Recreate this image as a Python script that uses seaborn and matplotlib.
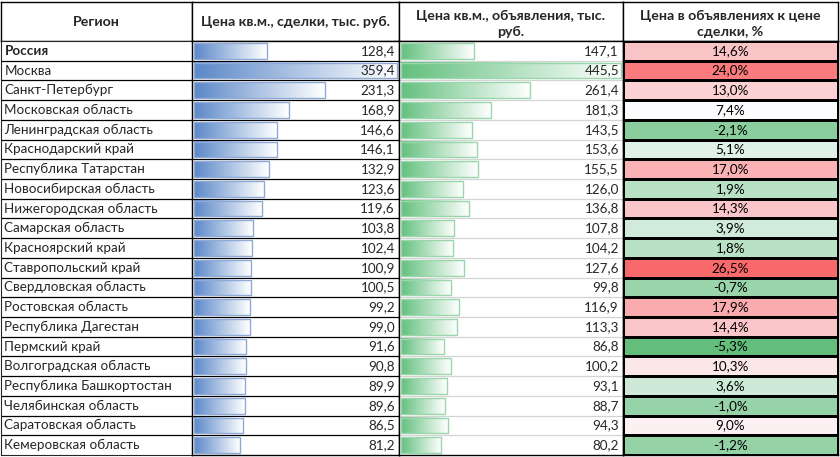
import numpy as np
import pandas as pd
import matplotlib
matplotlib.use("Agg")
import matplotlib.pyplot as plt
import matplotlib.transforms as mtransforms
from matplotlib.colors import LinearSegmentedColormap, TwoSlopeNorm
import seaborn as sns

regions = ["Россия", "Москва", "Санкт-Петербург", "Московская область",
           "Ленинградская область", "Краснодарский край", "Республика Татарстан",
           "Новосибирская область", "Нижегородская область", "Самарская область",
           "Красноярский край", "Ставропольский край", "Свердловская область",
           "Ростовская область", "Республика Дагестан", "Пермский край",
           "Волгоградская область", "Республика Башкортостан", "Челябинская область",
           "Саратовская область", "Кемеровская область"]
deal_price = [128.4, 359.4, 231.3, 168.9, 146.6, 146.1, 132.9, 123.6, 119.6, 103.8,
              102.4, 100.9, 100.5, 99.2, 99.0, 91.6, 90.8, 89.9, 89.6, 86.5, 81.2]
ask_price = [147.1, 445.5, 261.4, 181.3, 143.5, 153.6, 155.5, 126.0, 136.8, 107.8,
             104.2, 127.6, 99.8, 116.9, 113.3, 86.8, 100.2, 93.1, 88.7, 94.3, 80.2]
premium = [14.6, 24.0, 13.0, 7.4, -2.1, 5.1, 17.0, 1.9, 14.3, 3.9,
           1.8, 26.5, -0.7, 17.9, 14.4, -5.3, 10.3, 3.6, -1.0, 9.0, -1.2]
headers = ["Регион", "Цена кв.м., сделки, тыс. руб.",
           "Цена кв.м., объявления, тыс.\nруб.", "Цена в объявлениях к цене\nсделки, %"]

df = pd.DataFrame({"region": regions, "deal": deal_price, "ask": ask_price, "prem": premium})

sns.set_style("white")
plt.rcParams["font.family"] = ["Lato", "DejaVu Sans"]
FS = 9.7
HFS = 10.2

W, H = 840, 457
fig = plt.figure(figsize=(W / 100, H / 100), dpi=100)

col_x = [1, 192, 399, 623, 838]
top, head_bot, body_bot = 2, 41, 455


def rect(x0, x1, y0, y1):
    return [x0 / W, 1 - y1 / H, (x1 - x0) / W, (y1 - y0) / H]


def fmt(v):
    return f"{v:.1f}".replace(".", ",")


n = len(df)

# header cells
for i, h in enumerate(headers):
    hax = fig.add_axes(rect(col_x[i], col_x[i + 1], top, head_bot))
    hax.set_xticks([])
    hax.set_yticks([])
    for s in hax.spines.values():
        s.set_color("black")
        s.set_linewidth(1)
    y_txt = 0.44 if "\n" in h else 0.5
    hax.text(0.5, y_txt, h, ha="center", va="center", fontsize=HFS, fontweight="bold",
             transform=hax.transAxes, linespacing=1.45)

# region names
ax0 = fig.add_axes(rect(col_x[0], col_x[1], head_bot, body_bot))
ax0.set_xlim(0, 1)
ax0.set_ylim(n - 0.5, -0.5)
ax0.set_xticks([])
ax0.set_yticks([])
for i, r in enumerate(df["region"]):
    ax0.text(0.018, i, r, ha="left", va="center", fontsize=FS,
             fontweight="bold" if i == 0 else "normal")
for i in range(1, n):
    ax0.axhline(i - 0.5, color="black", lw=0.9)


def data_bars(ax, col, color, edge, grid_color, width_px):
    vals = df[col]
    sns.barplot(x=vals, y=df["region"], orient="h", ax=ax, color=color, width=0.8)
    cmap = LinearSegmentedColormap.from_list(col, [color, "#FFFFFF"])
    grad = np.linspace(0, 1, 256).reshape(1, -1)
    for p in ax.patches:
        x0, y0 = p.get_x(), p.get_y()
        w, h = p.get_width(), p.get_height()
        ax.imshow(grad, extent=[x0, x0 + w, y0 + h, y0], aspect="auto", cmap=cmap,
                  zorder=1, interpolation="bilinear")
        p.set_facecolor("none")
        p.set_edgecolor(edge)
        p.set_linewidth(1.0)
        p.set_zorder(2)
    vmax = vals.max()
    pad = vmax * 2.5 / width_px
    ax.set_xlim(-pad, vmax + pad)
    ax.set_ylim(n - 0.5, -0.5)
    ax.set_xticks([])
    ax.set_yticks([])
    ax.set_xlabel("")
    ax.set_ylabel("")
    trans = mtransforms.blended_transform_factory(ax.transAxes, ax.transData)
    for i, v in enumerate(vals):
        ax.text(1 - 4 / width_px, i, fmt(v), ha="right", va="center", fontsize=FS,
                transform=trans, zorder=3)
    for i in range(1, n):
        ax.axhline(i - 0.5, color=grid_color, lw=0.9, zorder=0)
    for s in ax.spines.values():
        s.set_color("black")
        s.set_linewidth(1)


ax1 = fig.add_axes(rect(col_x[1], col_x[2], head_bot, body_bot))
data_bars(ax1, "deal", "#5B88C8", "#8FAAD6", "black", col_x[2] - col_x[1])

ax2 = fig.add_axes(rect(col_x[2], col_x[3], head_bot, body_bot))
data_bars(ax2, "ask", "#63C07E", "#9AD6AB", "#D4D4D4", col_x[3] - col_x[2])

# colour scale column
ax3 = fig.add_axes(rect(col_x[3], col_x[4], head_bot, body_bot))
scale = LinearSegmentedColormap.from_list("gwr", ["#63BE7B", "#FCFCFF", "#F8696B"])
norm = TwoSlopeNorm(vmin=df["prem"].min(), vcenter=df["prem"].median(), vmax=df["prem"].max())
labels = np.array([[fmt(v) + "%"] for v in df["prem"]])
sns.heatmap(df[["prem"]], ax=ax3, cmap=scale, norm=norm, annot=labels, fmt="",
            cbar=False, linewidths=0.9, linecolor="black",
            annot_kws={"fontsize": FS, "color": "black"})
ax3.set_xticks([])
ax3.set_yticks([])
ax3.set_xlabel("")
ax3.set_ylabel("")
for s in ax3.spines.values():
    s.set_visible(True)
    s.set_color("black")
    s.set_linewidth(1)

fig.savefig("out.png", dpi=100, facecolor="white")
